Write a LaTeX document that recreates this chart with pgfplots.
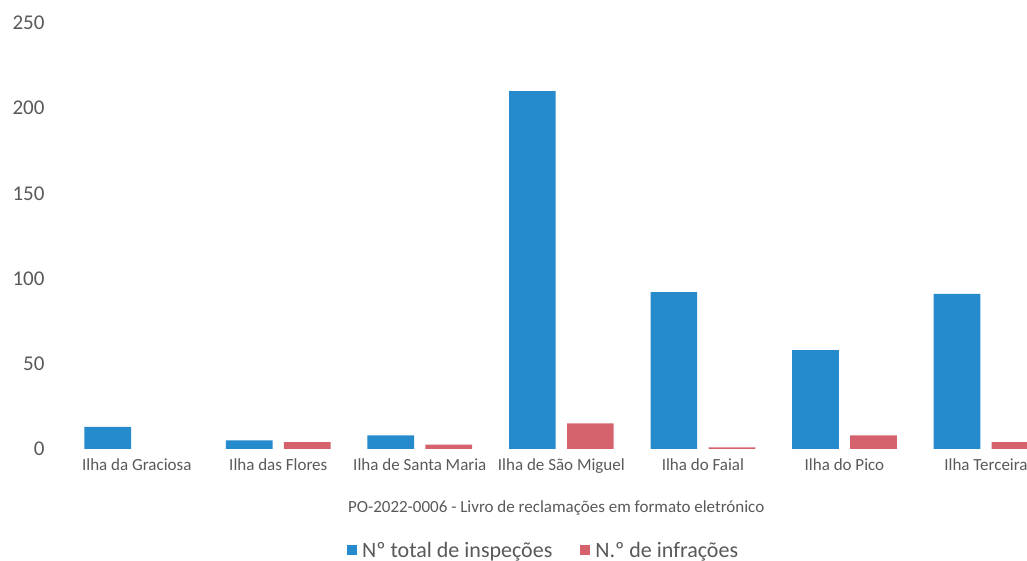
\documentclass[border=0pt]{standalone}
\usepackage{pgfplots}
\pgfplotsset{compat=1.18}
\usepackage{fontspec}
\setmainfont{Carlito}
\definecolor{cblue}{RGB}{38,139,204}
\definecolor{cred}{RGB}{214,98,110}
\definecolor{ctext}{RGB}{89,89,89}
\begin{document}
\begin{tikzpicture}
\begin{axis}[
  name=ax,
  scale only axis,
  width=961pt, height=426pt,
  xmin=-0.5, xmax=6.29,
  ymin=0, ymax=250,
  ytick={0,50,100,150,200,250},
  xtick={0,1,2,3,4,5,6},
  xticklabels={Ilha da Graciosa,Ilha das Flores,Ilha de Santa Maria,Ilha de São Miguel,Ilha do Faial,Ilha do Pico,Ilha Terceira},
  axis line style={draw=none},
  tick style={draw=none},
  /pgf/number format/assume math mode=true,
  yticklabel style={font=\fontsize{21}{24}\selectfont, text=ctext, xshift=-18pt},
  xticklabel style={font=\fontsize{17}{20}\selectfont, text=ctext, yshift=-6pt},
  xlabel={PO-2022-0006 - Livro de reclamações em formato eletrónico},
  xlabel style={font=\fontsize{17}{20}\selectfont, text=ctext, at={(axis description cs:0.51,-0.138)}, anchor=center},
  clip=true,
  legend style={draw=none, at={(axis description cs:0.497,-0.238)}, anchor=center, legend columns=2, font=\fontsize{22}{26}\selectfont, text=ctext,
    /tikz/every odd column/.append style={column sep=3pt},
    /tikz/every even column/.append style={column sep=26pt}},
  legend image code/.code={\fill[#1] (0pt,-4.5pt) rectangle (10pt,5.5pt);},
]
\addplot[ybar, bar width=0.33, bar shift=-0.205, fill=cblue, draw=none] coordinates {
(0,13) (1,5) (2,8) (3,210) (4,92) (5,58) (6,91)};
\addlegendentry{Nº total de inspeções}
\addplot[ybar, bar width=0.33, bar shift=0.205, fill=cred, draw=none] coordinates {
(1,4) (2,2.5) (3,15) (4,1) (5,8) (6,4)};
\addlegendentry{N.º de infrações}
\end{axis}
\pgfresetboundingbox
\path[use as bounding box] ([xshift=-66pt,yshift=-112pt]ax.south west) rectangle ([yshift=23pt]ax.north east);
\end{tikzpicture}
\end{document}
